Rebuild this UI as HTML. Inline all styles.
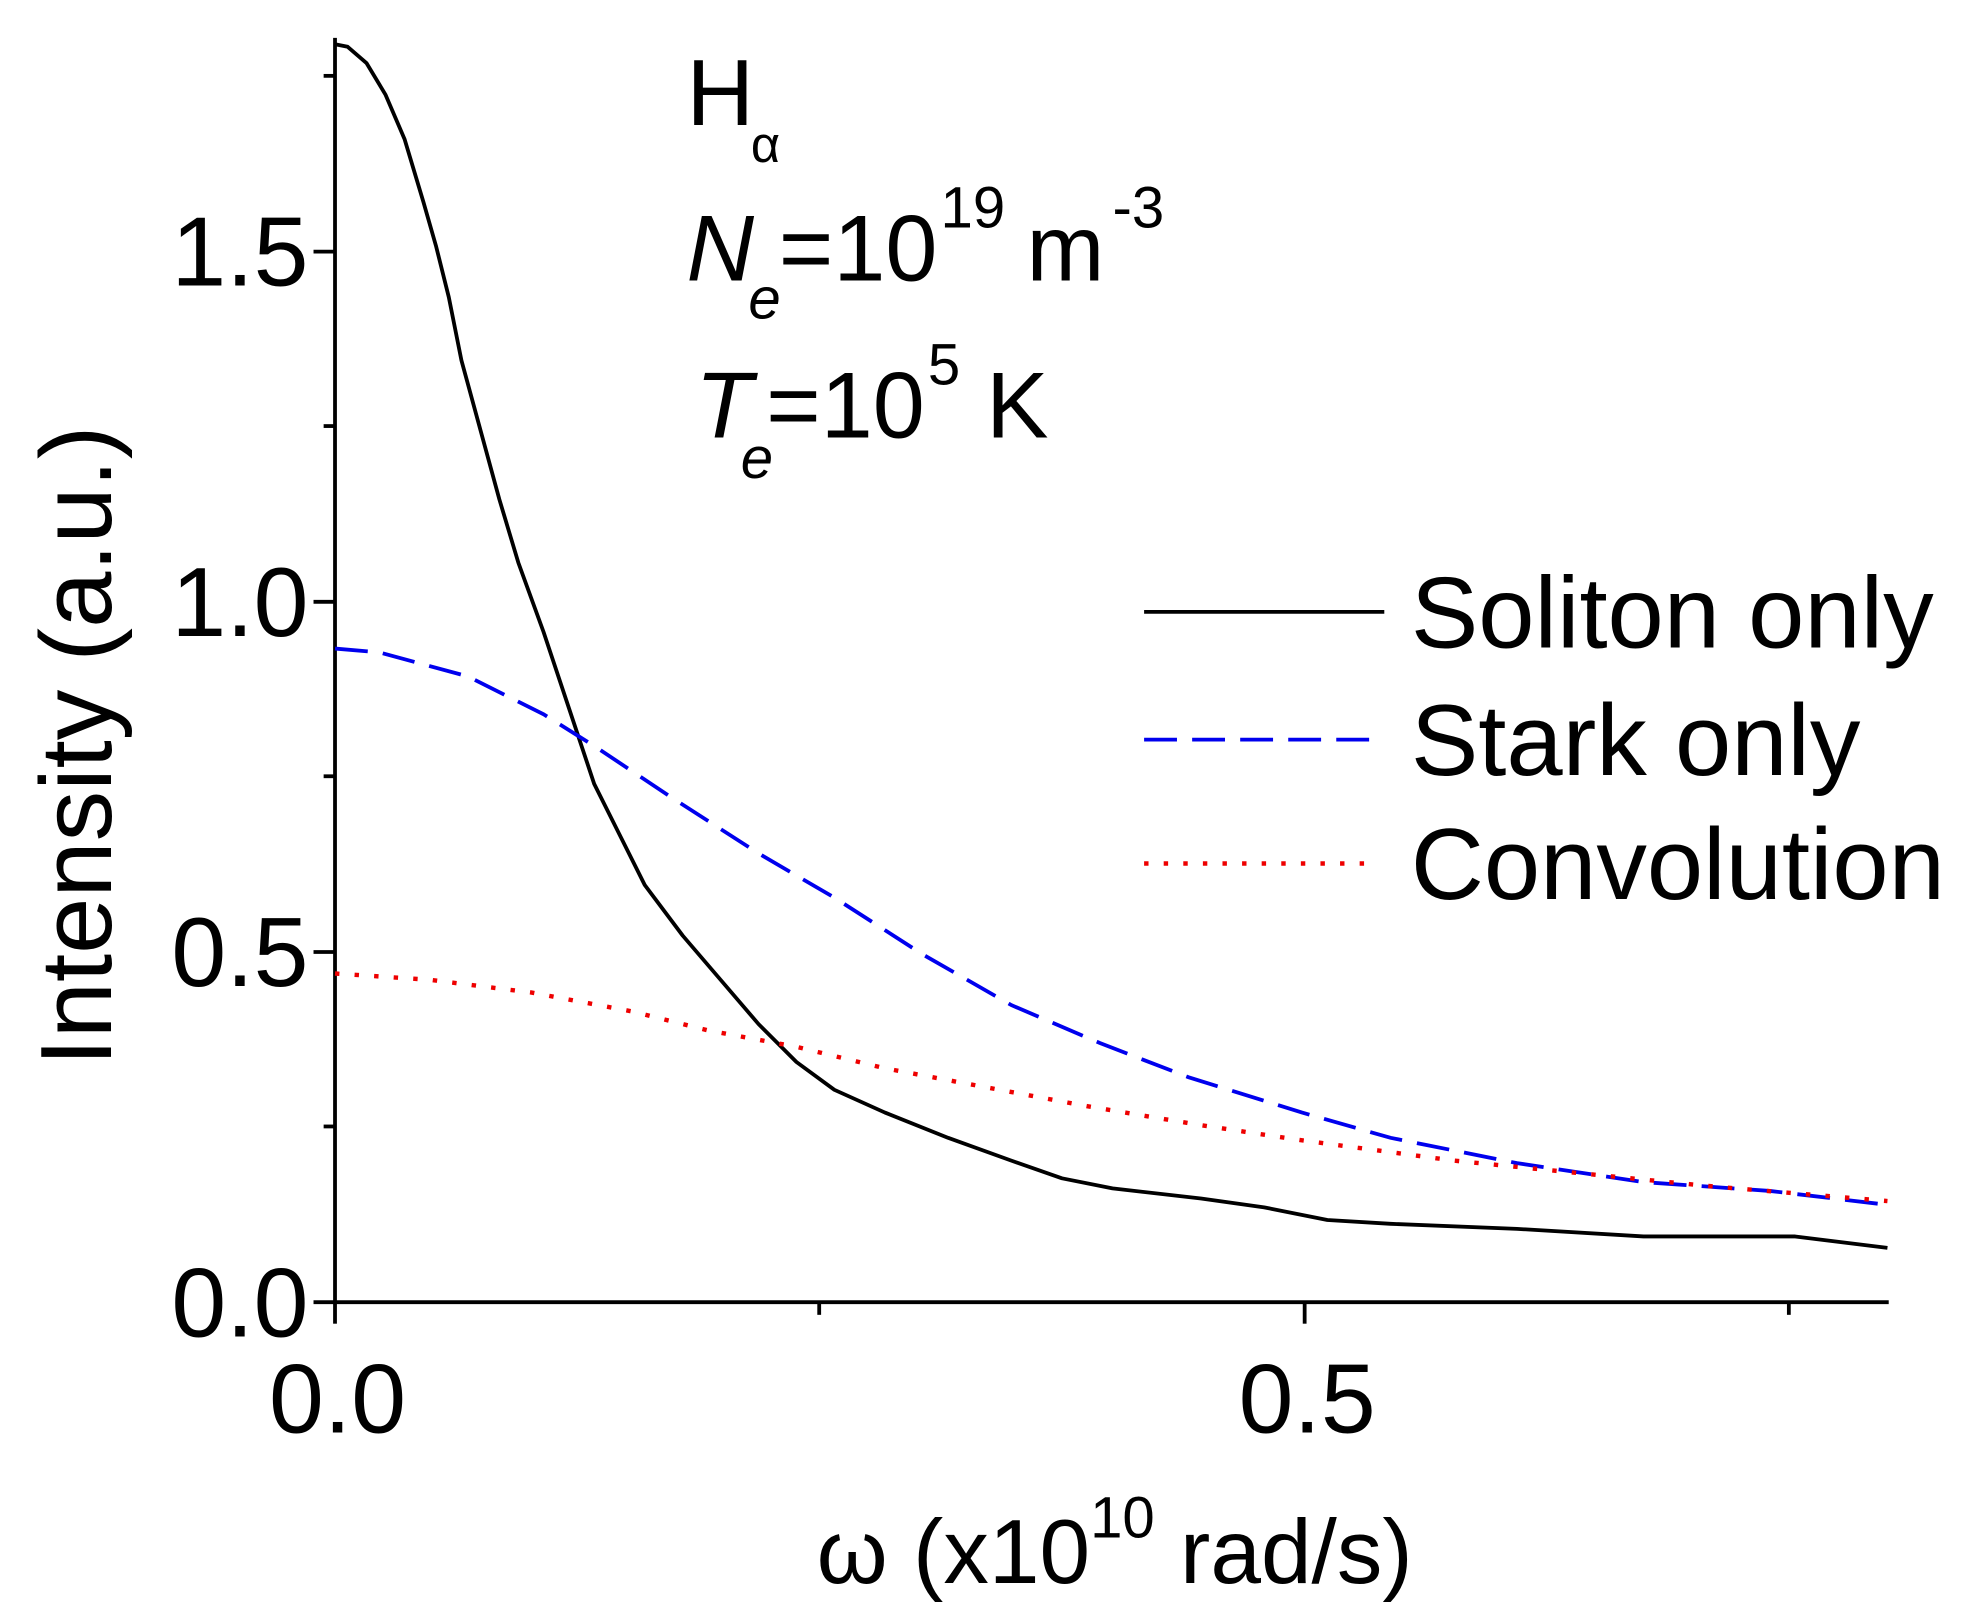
<!DOCTYPE html>
<html><head><meta charset="utf-8"><style>
html,body{margin:0;padding:0;background:#fff;}
svg{display:block;}
text{font-family:"Liberation Sans",Arial,sans-serif;fill:#000;}
</style></head><body>
<svg width="1981" height="1617" viewBox="0 0 1567 1279" preserveAspectRatio="none" xmlns="http://www.w3.org/2000/svg">
<rect width="1567" height="1279" fill="#fff"/>
<g stroke="#000" stroke-width="3" fill="none">
<line x1="265" y1="30" x2="265" y2="1031"/>
<line x1="264" y1="1030" x2="1494" y2="1030"/>
<line x1="248" y1="1030" x2="265" y2="1030"/>
<line x1="248" y1="753" x2="265" y2="753"/>
<line x1="248" y1="476" x2="265" y2="476"/>
<line x1="248" y1="199" x2="265" y2="199"/>
<line x1="256" y1="891" x2="265" y2="891"/>
<line x1="256" y1="614" x2="265" y2="614"/>
<line x1="256" y1="337" x2="265" y2="337"/>
<line x1="256" y1="60" x2="265" y2="60"/>
<line x1="265" y1="1030" x2="265" y2="1047"/>
<line x1="1032" y1="1030" x2="1032" y2="1047"/>
<line x1="648" y1="1030" x2="648" y2="1040"/>
<line x1="1415" y1="1030" x2="1415" y2="1040"/>
</g>
<g font-size="78" text-anchor="end">
<text x="244" y="1057">0.0</text>
<text x="244" y="780">0.5</text>
<text x="244" y="503">1.0</text>
<text x="244" y="226">1.5</text>
</g>
<g font-size="78" text-anchor="middle">
<text x="267" y="1133">0.0</text>
<text x="1034" y="1133">0.5</text>
</g>
<text transform="translate(88,590) rotate(-90)" font-size="80" text-anchor="middle">Intensity (a.u.)</text>
<text x="646" y="1252" font-size="72">ω (x10<tspan font-size="46" dy="-36">10</tspan><tspan dy="36"> rad/s)</tspan></text>
<text x="543" y="99" font-size="74">H</text>
<text x="594" y="128" font-size="40" font-family="Liberation Serif,serif">α</text>
<text x="543" y="222" font-size="74" font-style="italic">N</text>
<text x="592" y="252" font-size="46" font-style="italic">e</text>
<text x="616" y="222" font-size="74">=10</text>
<text x="744" y="180" font-size="46">19</text>
<text x="812" y="222" font-size="74">m</text>
<text x="880" y="180" font-size="46">-3</text>
<text x="550" y="346" font-size="74" font-style="italic">T</text>
<text x="586" y="378" font-size="46" font-style="italic">e</text>
<text x="606" y="346" font-size="74">=10</text>
<text x="734" y="304" font-size="46">5</text>
<text x="780" y="346" font-size="74">K</text>
<line x1="905" y1="484" x2="1095" y2="484" stroke="#000" stroke-width="3"/>
<line x1="905" y1="585" x2="1095" y2="585" stroke="#0000ee" stroke-width="3" stroke-dasharray="26,12"/>
<line x1="905" y1="683" x2="1080" y2="683" stroke="#ee0000" stroke-width="3.5" stroke-dasharray="3.5,12"/>
<g font-size="80">
<text x="1116" y="512">Soliton only</text>
<text x="1116" y="613">Stark only</text>
<text x="1116" y="711">Convolution</text>
</g>
<polyline fill="none" stroke="#000" stroke-width="3" stroke-linejoin="round" points="265,35 275,37 290,50 305,75 320,110 335,160 345,195 355,235 365,285 380,340 395,395 410,445 430,500 450,560 470,620 490,660 510,700 540,740 570,775 600,810 630,840 660,862 700,880 750,900 800,918 840,932 880,940 950,948 1000,955 1050,965 1100,968 1200,972 1300,978 1420,978 1493,987"/>
<polyline fill="none" stroke="#0000ee" stroke-width="3" stroke-dasharray="26,12" points="265,513 300,516 370,535 430,565 470,590 530,630 600,675 660,710 730,755 800,795 870,825 940,852 1030,880 1100,900 1200,920 1300,935 1400,942 1493,953"/>
<polyline fill="none" stroke="#ee0000" stroke-width="3.5" stroke-dasharray="3.5,12" points="265,770 340,775 420,785 500,800 560,815 630,828 700,845 780,860 860,875 950,890 1030,902 1150,918 1250,928 1350,938 1493,950"/>
</svg>
</body></html>
